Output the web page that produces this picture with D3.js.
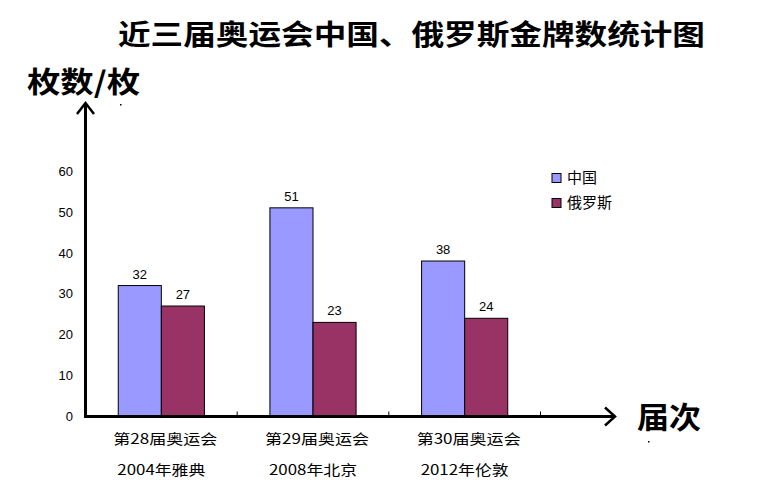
<!DOCTYPE html>
<html><head><meta charset="utf-8">
<script src="https://cdn.jsdelivr.net/npm/d3@7"></script>
<style>body{margin:0;background:#fff}svg{display:block}</style>
</head><body>
<script>
const categories = ["第28届奥运会", "第29届奥运会", "第30届奥运会"];
const subLabels = ["2004年雅典", "2008年北京", "2012年伦敦"];
const seriesNames = ["中国", "俄罗斯"];
const china = [32, 51, 38];
const russia = [27, 23, 24];
const yTicks = [0, 10, 20, 30, 40, 50, 60];
const colors = ["#9999FF", "#993366"];

const W = 757, H = 489;
const svg = d3.select("body").append("svg").attr("width", W).attr("height", H);
const cjk = "'Noto Sans CJK SC', sans-serif";

const y = d3.scaleLinear().domain([0, 60]).range([416.5, 171]);
const x0 = d3.scaleBand().domain(categories).range([85.5, 540.5]).paddingInner(0).paddingOuter(0);
const x1 = d3.scaleBand().domain(seriesNames).range([0, x0.bandwidth()]).paddingInner(0).paddingOuter(0.76);

// title
svg.append("text").attr("x", 118).attr("y", 45).attr("font-family", cjk).attr("font-weight", "bold")
  .attr("font-size", 28).attr("textLength", 587).attr("lengthAdjust", "spacingAndGlyphs")
  .text("近三届奥运会中国、俄罗斯金牌数统计图");
svg.append("text").attr("x", 27).attr("y", 93).attr("font-family", cjk).attr("font-weight", "bold")
  .attr("font-size", 29).attr("textLength", 113).attr("lengthAdjust", "spacingAndGlyphs").text("枚数/枚");
svg.append("text").attr("x", 637).attr("y", 428).attr("font-family", cjk).attr("font-weight", "bold")
  .attr("font-size", 30).attr("textLength", 64).attr("lengthAdjust", "spacingAndGlyphs").text("届次");
svg.append("rect").attr("x", 120).attr("y", 104).attr("width", 1.5).attr("height", 1.5).attr("fill", "#000");
svg.append("rect").attr("x", 648).attr("y", 441).attr("width", 1.5).attr("height", 1.5).attr("fill", "#000");

// y axis labels
const ya = svg.append("g").attr("transform", "translate(73,0)")
  .call(d3.axisLeft(y).tickValues(yTicks).tickSize(0).tickPadding(0));
ya.select(".domain").remove();
ya.selectAll("text").attr("font-family", "'Liberation Sans', sans-serif").attr("font-size", 13).attr("fill", "#000");

// bars
const data = categories.map((c, i) => ({c, vals: [china[i], russia[i]]}));
const g = svg.append("g");
data.forEach(d => {
  d.vals.forEach((v, j) => {
    const xx = x0(d.c) + x1(seriesNames[j]);
    g.append("rect").attr("x", xx).attr("y", y(v)).attr("width", x1.bandwidth()).attr("height", y(0) - y(v))
      .attr("fill", colors[j]).attr("stroke", "#000").attr("stroke-width", 1);
    g.append("text").attr("x", xx + x1.bandwidth() / 2).attr("y", y(v) - 7).attr("text-anchor", "middle")
      .attr("font-family", "'Liberation Sans', sans-serif").attr("font-size", 13).text(v);
  });
});

// x axis
const xa = svg.append("g").attr("transform", `translate(0,${y(0)})`)
  .call(d3.axisBottom(x0).tickSize(0).tickFormat(""));
xa.select(".domain").remove();
const bounds = categories.map(c => x0(c) + x0.bandwidth());
bounds.forEach(b => svg.append("line").attr("x1", b).attr("x2", b).attr("y1", y(0)).attr("y2", y(0) - 5)
  .attr("stroke", "#000").attr("stroke-width", 1));
svg.append("line").attr("x1", 84).attr("x2", 614).attr("y1", y(0)).attr("y2", y(0)).attr("stroke", "#000").attr("stroke-width", 3);
svg.append("path").attr("d", `M605,${y(0) - 9} L615,${y(0)} L605,${y(0) + 9}`).attr("fill", "none").attr("stroke", "#000").attr("stroke-width", 2.5);
svg.append("line").attr("x1", 85.5).attr("x2", 85.5).attr("y1", y(0) + 1.5).attr("y2", 104).attr("stroke", "#000").attr("stroke-width", 3);
svg.append("path").attr("d", `M77,114 L85.5,103 L94,114`).attr("fill", "none").attr("stroke", "#000").attr("stroke-width", 2.5);

// category labels
categories.forEach((c, i) => {
  const cx = x0(c) + x0.bandwidth() / 2;
  svg.append("text").attr("x", cx + 4).attr("y", 444).attr("text-anchor", "middle").attr("font-family", cjk)
    .attr("font-size", 14).attr("textLength", 104).attr("lengthAdjust", "spacingAndGlyphs").text(c);
  svg.append("text").attr("x", cx).attr("y", 475).attr("text-anchor", "middle").attr("font-family", cjk)
    .attr("font-size", 14).attr("textLength", 88).attr("lengthAdjust", "spacingAndGlyphs").text(subLabels[i]);
});

// legend
seriesNames.forEach((s, i) => {
  svg.append("rect").attr("x", 552).attr("y", 173.5 + i * 25).attr("width", 9).attr("height", 9)
    .attr("fill", colors[i]).attr("stroke", "#000").attr("stroke-width", 1);
  svg.append("text").attr("x", 567).attr("y", 183 + i * 25).attr("font-family", cjk).attr("font-size", 15).text(s);
});
</script>
</body></html>
